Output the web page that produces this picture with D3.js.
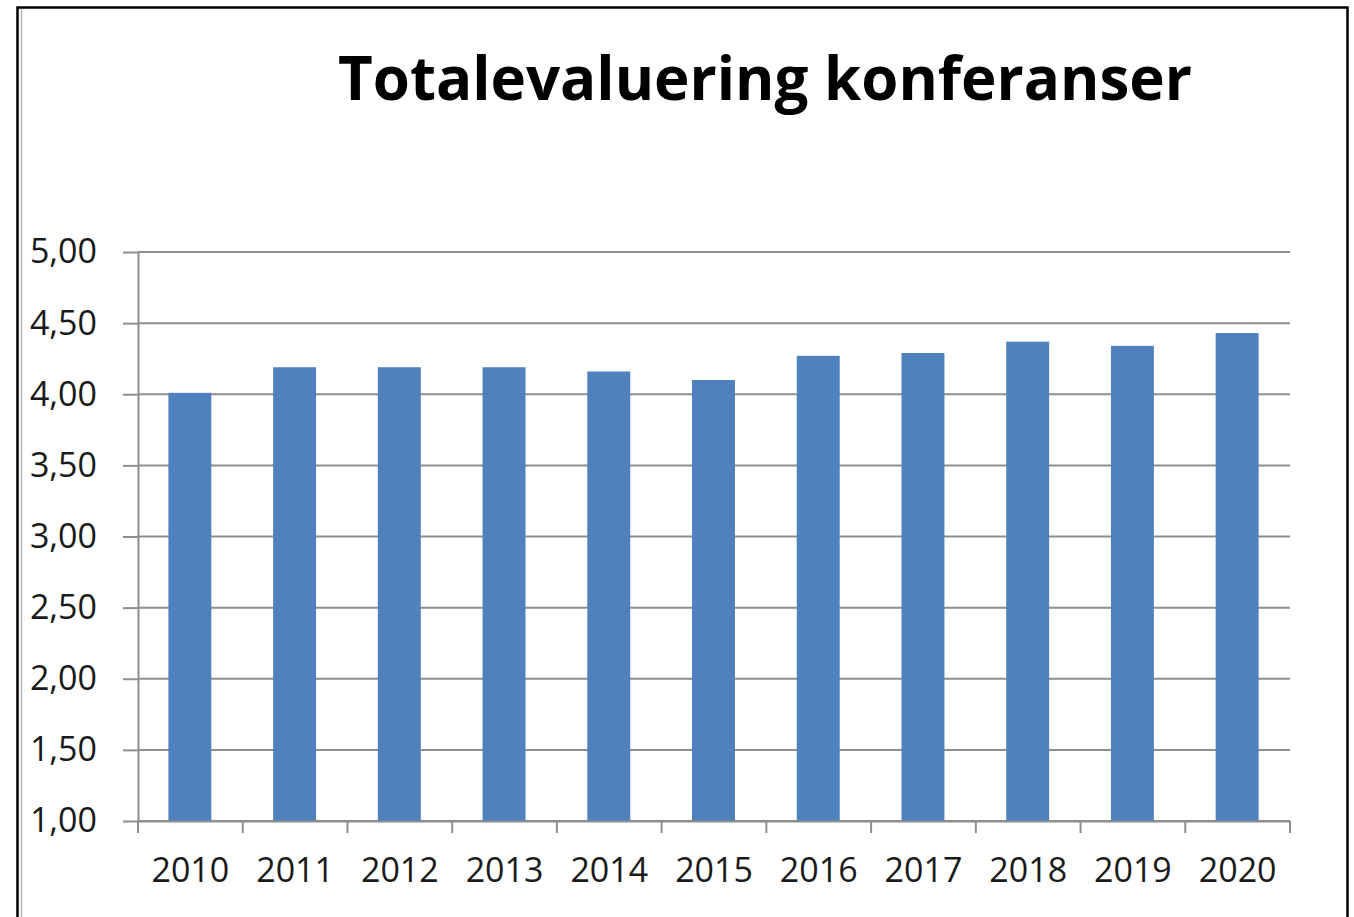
<!DOCTYPE html>
<html>
<head>
<meta charset="utf-8">
<script src="https://cdn.jsdelivr.net/npm/d3@7"></script>
<style>
    body { margin: 0; background: #fff; }
    text { font-family: "Open Sans", sans-serif; }
</style>
</head>
<body>
<div id="chart"></div>
<script>
const years = ["2010", "2011", "2012", "2013", "2014", "2015", "2016", "2017", "2018", "2019", "2020"];
const scores = [4.01, 4.19, 4.19, 4.19, 4.16, 4.10, 4.27, 4.29, 4.37, 4.34, 4.43];
const yTicks = [1, 1.5, 2, 2.5, 3, 3.5, 4, 4.5, 5];
const title = "Totalevaluering konferanser";

const svg = d3.select("#chart")
    .append("svg")
    .attr("width", 1354)
    .attr("height", 917);

// frame
svg.append("rect")
    .attr("x", 17.5).attr("y", 7.5)
    .attr("width", 1330).attr("height", 920)
    .attr("fill", "none")
    .attr("stroke", "#000")
    .attr("stroke-width", 2.5);
svg.append("line")
    .attr("x1", 21.5).attr("x2", 21.5)
    .attr("y1", 9).attr("y2", 917)
    .attr("stroke", "#b5b5b5")
    .attr("stroke-width", 1.5);

const x = d3.scaleBand()
    .domain(years)
    .range([138, 1290])
    .padding(0);

const y = d3.scaleLinear()
    .domain([1, 5])
    .range([821, 252]);

const fmt = d => d3.format(".2f")(d).replace(".", ",");

// gridlines
svg.append("g")
    .selectAll("line")
    .data(yTicks)
    .enter().append("line")
    .attr("x1", 138)
    .attr("x2", 1290)
    .attr("y1", d => y(d))
    .attr("y2", d => y(d))
    .attr("stroke", "#8e8e8e")
    .attr("stroke-width", 2);

// bars
const barW = x.bandwidth() * 0.41;
svg.append("g")
    .selectAll("rect")
    .data(years)
    .enter().append("rect")
    .attr("x", (d, i) => x(d) + (x.bandwidth() - barW) / 2 - 0.5)
    .attr("y", (d, i) => y(scores[i]))
    .attr("width", barW)
    .attr("height", (d, i) => y(1) - y(scores[i]))
    .attr("fill", "#4f81bd");

// y axis
const yAxis = svg.append("g")
    .attr("transform", "translate(138,0)")
    .call(d3.axisLeft(y).tickValues(yTicks).tickFormat(fmt).tickSize(15).tickSizeOuter(0).tickPadding(26));
yAxis.selectAll("line, path").attr("stroke", "#8e8e8e").attr("stroke-width", 2);
yAxis.selectAll("text").style("font-size", "34px").attr("fill", "#1a1a1a");

// x axis
const xAxis = svg.append("g")
    .attr("transform", "translate(0,821)")
    .call(d3.axisBottom(x).tickSize(0).tickPadding(37));
xAxis.select("path").attr("stroke", "#8e8e8e").attr("stroke-width", 2);
xAxis.selectAll("text").style("font-size", "34px").attr("fill", "#1a1a1a");

// tick marks between categories
const bounds = years.map(d => x(d)).concat([x.range()[1]]);
xAxis.append("g")
    .selectAll("line")
    .data(bounds)
    .enter().append("line")
    .attr("x1", d => d).attr("x2", d => d)
    .attr("y1", 0).attr("y2", 12)
    .attr("stroke", "#8e8e8e")
    .attr("stroke-width", 2);

// title
const t = svg.append("text")
    .attr("x", 765)
    .attr("y", 100)
    .attr("text-anchor", "middle")
    .style("font-size", "56px")
    .style("font-weight", "bold")
    .attr("fill", "#000")
    .text(title);
const w = t.node().getComputedTextLength();
t.style("font-size", (56 * 854 / w) + "px");
</script>
</body>
</html>
